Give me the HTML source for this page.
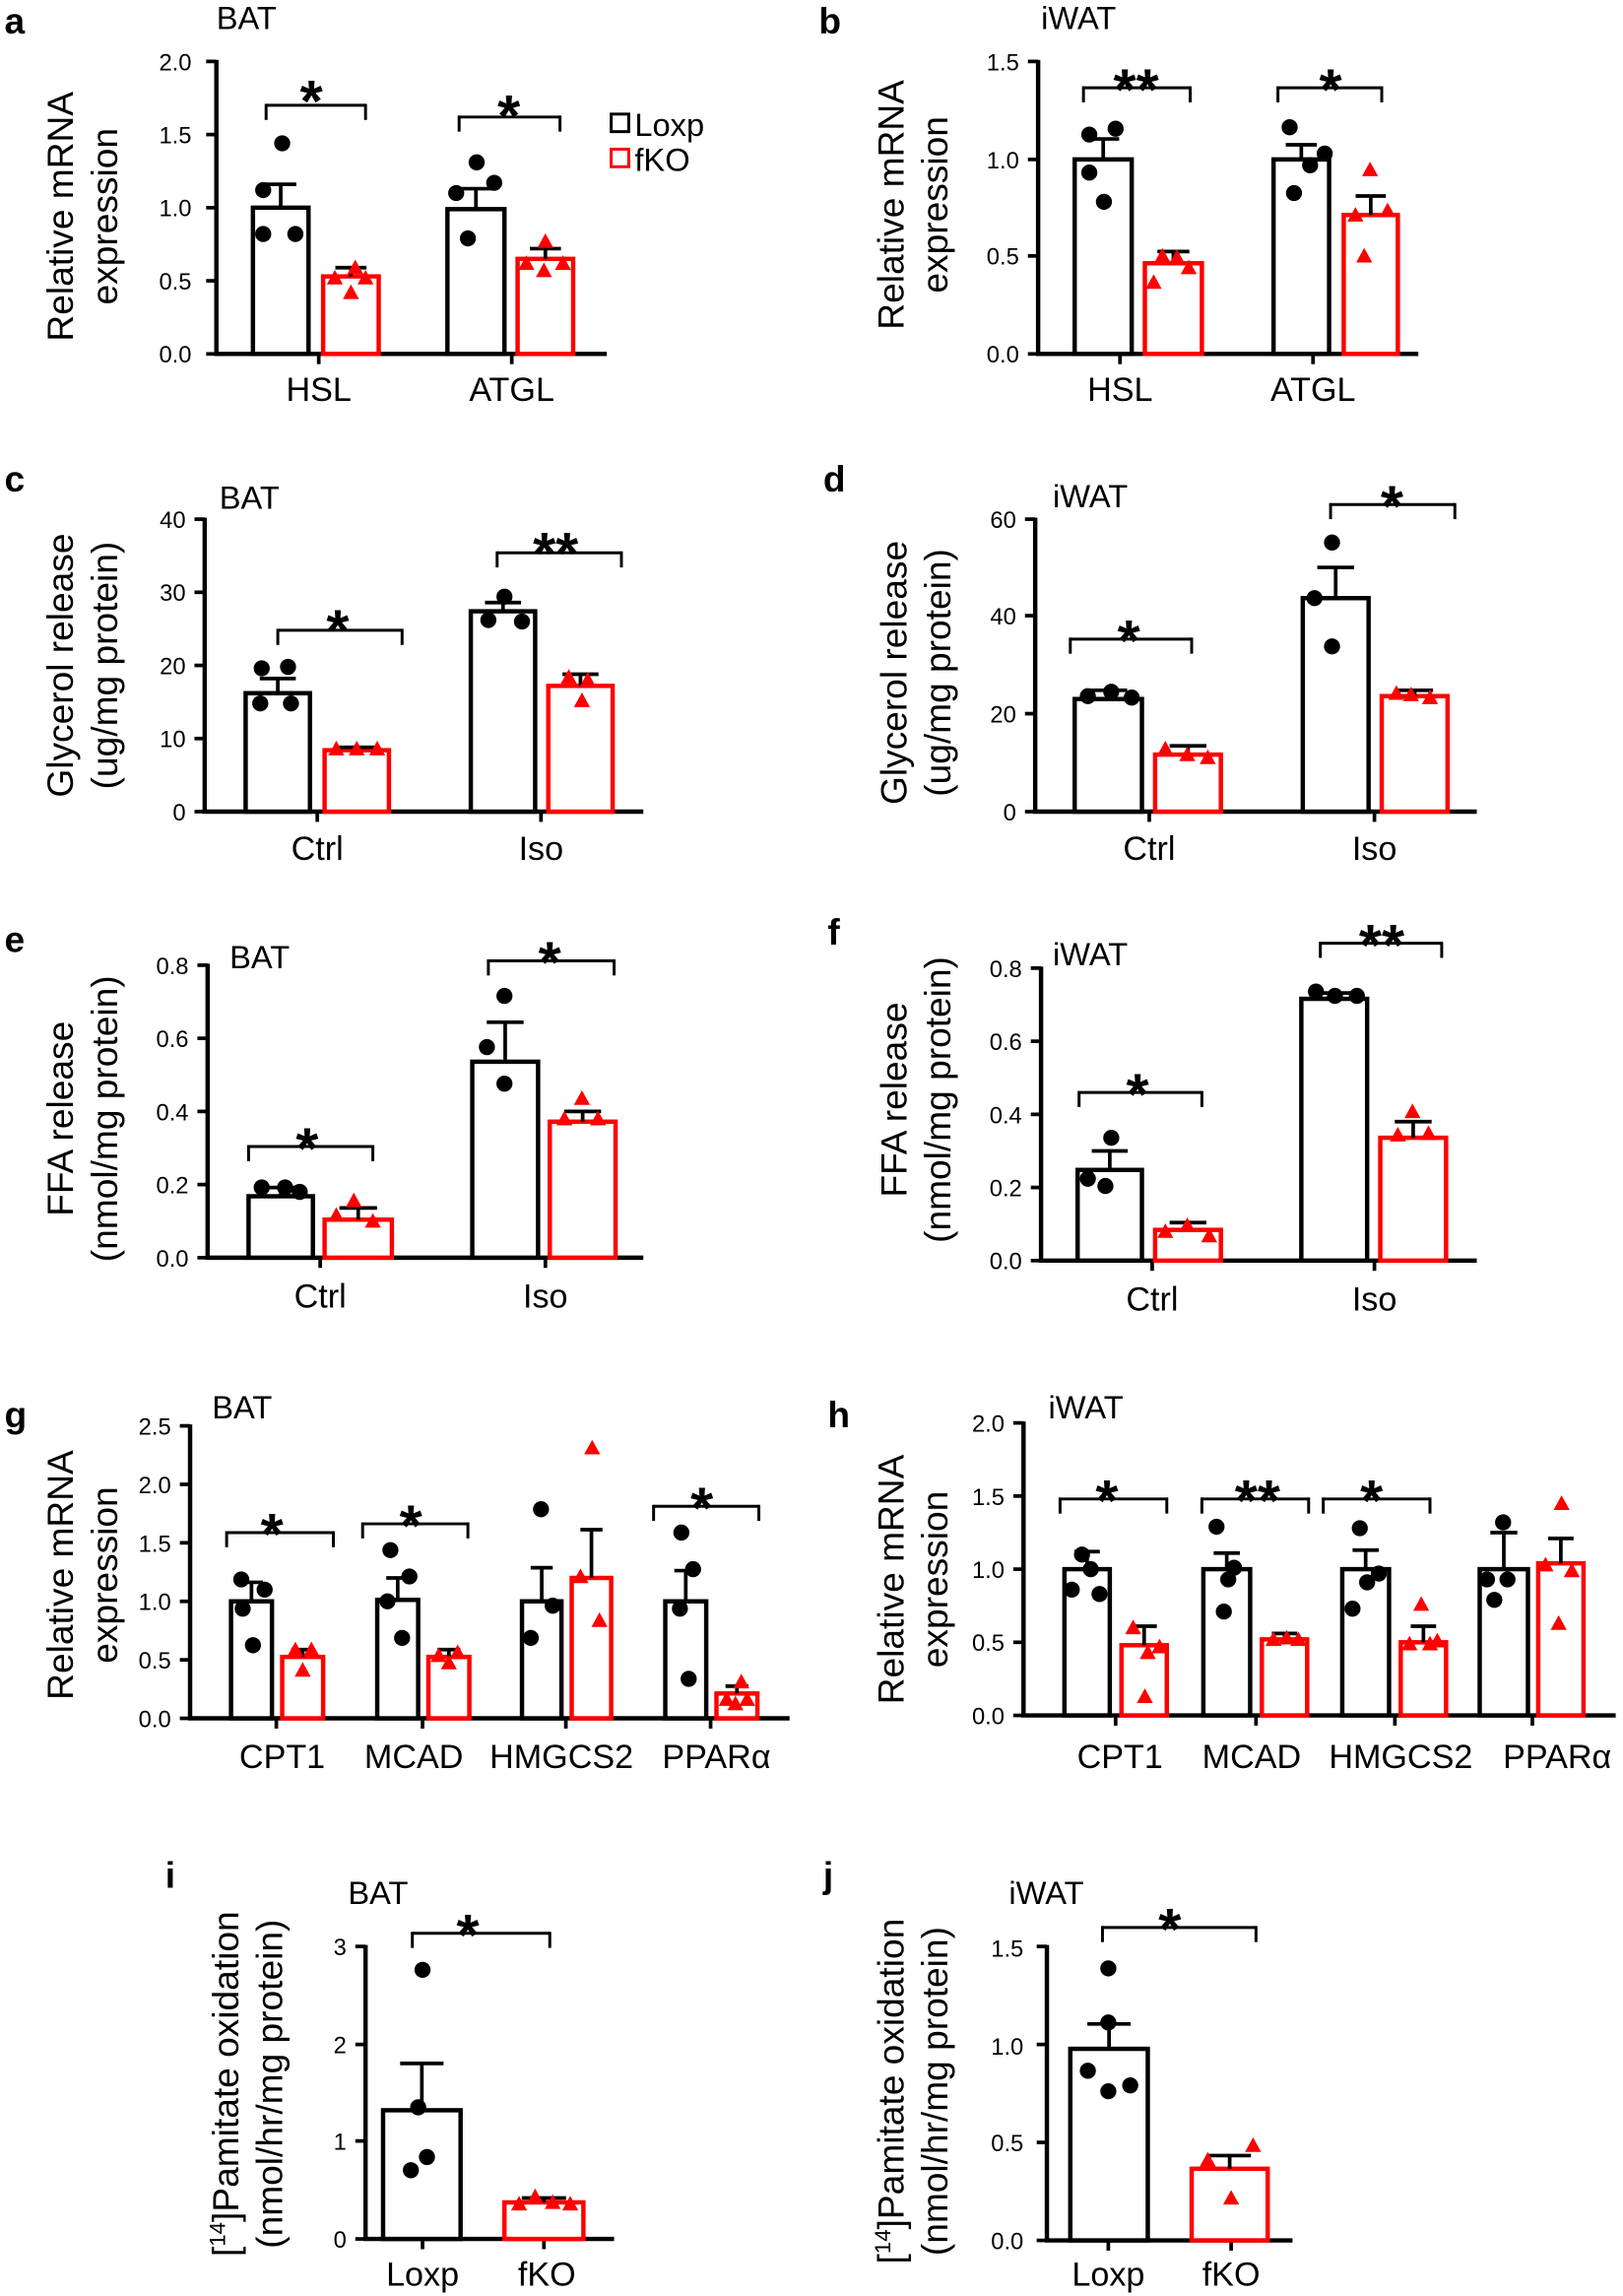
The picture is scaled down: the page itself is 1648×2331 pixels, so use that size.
<!DOCTYPE html>
<html><head><meta charset="utf-8"><style>
html,body{margin:0;padding:0;background:#fff}
svg{display:block}
text{font-family:"Liberation Sans",Arial,sans-serif;fill:#000}
.t{font-size:16px;text-anchor:end}
.c{font-size:23px;text-anchor:middle}
.y{font-size:25px;text-anchor:middle}
.L{font-size:25px;font-weight:bold}
.T{font-size:22px}
.s{font-size:40px;font-weight:bold;text-anchor:middle}
</style></head><body>
<svg id="g" width="1648" height="2331" viewBox="0 0 1110 1570" xmlns="http://www.w3.org/2000/svg">
<text class="L" x="3" y="23">a</text><text class="T" x="148" y="20">BAT</text>
<text class="L" x="560" y="23">b</text><text class="T" x="712" y="20">iWAT</text>
<text class="L" x="3" y="336">c</text><text class="T" x="150" y="348">BAT</text>
<text class="L" x="563" y="336">d</text><text class="T" x="720" y="347">iWAT</text>
<text class="L" x="3" y="651">e</text><text class="T" x="157" y="662">BAT</text>
<text class="L" x="566" y="646">f</text><text class="T" x="720" y="660">iWAT</text>
<text class="L" x="3" y="976">g</text><text class="T" x="145" y="970">BAT</text>
<text class="L" x="566" y="976">h</text><text class="T" x="717" y="970">iWAT</text>
<text class="L" x="113" y="1291">i</text><text class="T" x="238" y="1302">BAT</text>
<text class="L" x="563" y="1291">j</text><text class="T" x="690" y="1302">iWAT</text>

<g transform="translate(50,148) rotate(-90)"><text class="y">Relative mRNA</text><text class="y" y="30">expression</text></g>
<g transform="translate(618,140) rotate(-90)"><text class="y">Relative mRNA</text><text class="y" y="30">expression</text></g>
<g transform="translate(50,455) rotate(-90)"><text class="y">Glycerol release</text><text class="y" y="30">(ug/mg protein)</text></g>
<g transform="translate(620,460) rotate(-90)"><text class="y">Glycerol release</text><text class="y" y="30">(ug/mg protein)</text></g>
<g transform="translate(50,765) rotate(-90)"><text class="y">FFA release</text><text class="y" y="30">(nmol/mg protein)</text></g>
<g transform="translate(620,752) rotate(-90)"><text class="y">FFA release</text><text class="y" y="30">(nmol/mg protein)</text></g>
<g transform="translate(50,1077) rotate(-90)"><text class="y">Relative mRNA</text><text class="y" y="30">expression</text></g>
<g transform="translate(618,1080) rotate(-90)"><text class="y">Relative mRNA</text><text class="y" y="30">expression</text></g>
<g transform="translate(163,1425) rotate(-90)"><text class="y">[<tspan font-size="15" dy="-9">14</tspan><tspan dy="9">]Pamitate oxidation</tspan></text><text class="y" y="30">(nmol/hr/mg protein)</text></g>
<g transform="translate(618,1430) rotate(-90)"><text class="y">[<tspan font-size="15" dy="-9">14</tspan><tspan dy="9">]Pamitate oxidation</tspan></text><text class="y" y="30">(nmol/hr/mg protein)</text></g>

<g>
<text class="t" x="131" y="248">0.0</text><text class="t" x="131" y="198">0.5</text><text class="t" x="131" y="148">1.0</text><text class="t" x="131" y="98">1.5</text><text class="t" x="131" y="48">2.0</text>
<text class="t" x="697" y="248">0.0</text><text class="t" x="697" y="181">0.5</text><text class="t" x="697" y="115">1.0</text><text class="t" x="697" y="48">1.5</text>
<text class="t" x="127" y="561">0</text><text class="t" x="127" y="511">10</text><text class="t" x="127" y="461">20</text><text class="t" x="127" y="411">30</text><text class="t" x="127" y="361">40</text>
<text class="t" x="695" y="561">0</text><text class="t" x="695" y="494">20</text><text class="t" x="695" y="427">40</text><text class="t" x="695" y="361">60</text>
<text class="t" x="129" y="866">0.0</text><text class="t" x="129" y="816">0.2</text><text class="t" x="129" y="766">0.4</text><text class="t" x="129" y="716">0.6</text><text class="t" x="129" y="666">0.8</text>
<text class="t" x="699" y="868">0.0</text><text class="t" x="699" y="818">0.2</text><text class="t" x="699" y="768">0.4</text><text class="t" x="699" y="718">0.6</text><text class="t" x="699" y="668">0.8</text>
<text class="t" x="117" y="1181">0.0</text><text class="t" x="117" y="1141">0.5</text><text class="t" x="117" y="1101">1.0</text><text class="t" x="117" y="1061">1.5</text><text class="t" x="117" y="1021">2.0</text><text class="t" x="117" y="981">2.5</text>
<text class="t" x="687" y="1179">0.0</text><text class="t" x="687" y="1129">0.5</text><text class="t" x="687" y="1079">1.0</text><text class="t" x="687" y="1029">1.5</text><text class="t" x="687" y="979">2.0</text>
<text class="t" x="237" y="1537">0</text><text class="t" x="237" y="1470">1</text><text class="t" x="237" y="1404">2</text><text class="t" x="237" y="1337">3</text>
<text class="t" x="700" y="1538">0.0</text><text class="t" x="700" y="1471">0.5</text><text class="t" x="700" y="1405">1.0</text><text class="t" x="700" y="1338">1.5</text>
</g>

<text class="c" x="218" y="274">HSL</text><text class="c" x="350" y="274">ATGL</text>
<text class="c" x="766" y="274">HSL</text><text class="c" x="898" y="274">ATGL</text>
<text class="c" x="217" y="588">Ctrl</text><text class="c" x="370" y="588">Iso</text>
<text class="c" x="786" y="588">Ctrl</text><text class="c" x="940" y="588">Iso</text>
<text class="c" x="219" y="894">Ctrl</text><text class="c" x="373" y="894">Iso</text>
<text class="c" x="788" y="896">Ctrl</text><text class="c" x="940" y="896">Iso</text>
<text class="c" x="193" y="1209">CPT1</text><text class="c" x="283" y="1209">MCAD</text><text class="c" x="384" y="1209">HMGCS2</text><text class="c" x="490" y="1209">PPARα</text>
<text class="c" x="766" y="1209">CPT1</text><text class="c" x="856" y="1209">MCAD</text><text class="c" x="958" y="1209">HMGCS2</text><text class="c" x="1065" y="1209">PPARα</text>
<text class="c" x="289" y="1563">Loxp</text><text class="c" x="374" y="1563">fKO</text>
<text class="c" x="758" y="1563">Loxp</text><text class="c" x="842" y="1563">fKO</text>

<text class="s" x="213" y="83">*</text><text class="s" x="348" y="93">*</text>
<text class="s" x="777" y="75">**</text><text class="s" x="910" y="75">*</text>
<text class="s" x="231" y="445">*</text><text class="s" x="380" y="392">**</text>
<text class="s" x="772" y="452">*</text><text class="s" x="952" y="360">*</text>
<text class="s" x="210" y="799">*</text><text class="s" x="376" y="672">*</text>
<text class="s" x="778" y="762">*</text><text class="s" x="945" y="660">**</text>
<text class="s" x="186" y="1063">*</text><text class="s" x="281" y="1057">*</text><text class="s" x="480" y="1045">*</text>
<text class="s" x="757" y="1040">*</text><text class="s" x="860" y="1040">**</text><text class="s" x="938" y="1040">*</text>
<text class="s" x="320" y="1337">*</text><text class="s" x="800" y="1333">*</text>

<rect x="418" y="78" width="12" height="12" fill="none" stroke="#000" stroke-width="2"/>
<text x="434" y="93" style="font-size:22px">Loxp</text>
<rect x="418" y="102" width="12" height="12" fill="none" stroke="#f00" stroke-width="2"/>
<text x="434" y="117" style="font-size:22px">fKO</text>
<g id="geo"></g>
</svg>
<script>
var NS="http://www.w3.org/2000/svg",G=document.getElementById("geo");
function el(n,a){var e=document.createElementNS(NS,n);for(var k in a)e.setAttribute(k,a[k]);G.appendChild(e);return e;}
function ln(x1,y1,x2,y2,c,w){el("line",{x1:x1,y1:y1,x2:x2,y2:y2,stroke:c||"#000","stroke-width":w||2.5});}
function panel(p){
 ln(p.ax,p.y0+1,p.ax,p.top,"#000",3);
 ln(p.ax-1.5,p.y0,p.xe,p.y0,"#000",3);
 p.ticks.forEach(function(t){ln(p.ax-7,t,p.ax,t,"#000",2.5);});
 (p.xt||[]).forEach(function(x){ln(x,p.y0,x,p.y0+7,"#000",2.5);});
 p.bars.forEach(function(b){
  var c=b[5]?"#f00":"#000",cx=(b[0]+b[1])/2,hw=(b[1]-b[0])*0.28;
  el("rect",{x:b[0],y:b[2],width:b[1]-b[0],height:p.y0-b[2],fill:"#fff",stroke:c,"stroke-width":3});
  ln(cx,b[2],cx,b[3],"#000",2.5);ln(cx-hw,b[3],cx+hw,b[3],"#000",2.5);
  b[4].forEach(function(q){
   if(b[5])el("polygon",{points:(q[0]-5.5)+","+(q[1]+4.5)+" "+(q[0]+5.5)+","+(q[1]+4.5)+" "+q[0]+","+(q[1]-5.5),fill:"#f00"});
   else el("circle",{cx:q[0],cy:q[1],r:5.5,fill:"#000"});
  });
 });
 (p.br||[]).forEach(function(b){ln(b[0],b[2],b[1],b[2],"#000",2);ln(b[0],b[2]-1,b[0],b[2]+10,"#000",2);ln(b[1],b[2]-1,b[1],b[2]+10,"#000",2);});
}
panel({ax:148,y0:242,top:41,xe:415,ticks:[242,192,142,92,42],xt:[218,350],
 bars:[[173,211,142,126,[[193,98],[180,130],[180,160],[202,160]]],
       [221,259,189,183,[[243,183],[229,190],[250,190],[240,200]],1],
       [306,345,143,129,[[326,111],[312,132],[338,125],[320,163]]],
       [354,392,177,170,[[373,165],[360,180],[385,180],[372,185]],1]],
 br:[[182,250,72],[314,383,80]]});
panel({ax:710,y0:242,top:41,xe:970,ticks:[242,175,109,42],xt:[766,898],
 bars:[[735,774,109,95,[[763,88],[745,92],[745,118],[755,138]]],
       [783,822,180,172,[[795,175],[805,176],[813,183],[789,193]],1],
       [871,909,109,99,[[882,87],[906,105],[885,132],[896,113]]],
       [919,956,147,134,[[937,116],[927,147],[949,144],[933,175]],1]],
 br:[[741,814,60],[874,945,60]]});
panel({ax:140,y0:555,top:354,xe:440,ticks:[555,505,455,405,355],xt:[217,370],
 bars:[[168,212,474,464,[[179,457],[197,456],[178,481],[199,481]]],
       [222,266,513,511,[[230,512],[244,512],[258,512]],1],
       [322,366,418,412,[[345,408],[334,424],[357,425]]],
       [375,419,469,461,[[389,463],[402,465],[398,479]],1]],
 br:[[190,275,431],[340,425,378]]});
panel({ax:708,y0:555,top:354,xe:1010,ticks:[555,488,421,355],xt:[786,940],
 bars:[[735,781,478,472,[[744,476],[760,473],[774,477]]],
       [790,835,516,510,[[797,512],[812,516],[826,518]],1],
       [891,936,409,388,[[911,371],[899,409],[911,442]]],
       [945,990,476,472,[[955,474],[965,475],[978,477]],1]],
 br:[[732,815,437],[910,995,345]]});
panel({ax:142,y0:860,top:659,xe:440,ticks:[860,810,760,710,660],xt:[219,373],
 bars:[[170,214,818,812,[[179,812],[195,812],[205,815]]],
       [222,268,834,826,[[230,831],[242,821],[255,835]],1],
       [323,368,726,699,[[345,681],[333,716],[345,741]]],
       [376,421,767,760,[[386,765],[398,751],[409,765]],1]],
 br:[[170,255,784],[334,420,657]]});
panel({ax:712,y0:862,top:661,xe:1010,ticks:[862,812,762,712,662],xt:[788,940],
 bars:[[737,781,800,787,[[760,778],[744,806],[756,811]]],
       [790,835,841,836,[[797,842],[812,838],[827,845]],1],
       [890,935,683,679,[[900,678],[913,681],[928,681]]],
       [944,989,778,767,[[966,760],[956,776],[977,775]],1]],
 br:[[738,822,747],[903,986,645]]});
panel({ax:130,y0:1175,top:974,xe:540,ticks:[1175,1135,1095,1055,1015,975],xt:[189,289,387,486],
 bars:[[158,186,1095,1082,[[165,1080],[181,1087],[166,1100],[173,1125]]],
       [193,221,1133,1128,[[202,1128],[213,1128],[207,1142]],1],
       [258,286,1094,1079,[[267,1060],[280,1078],[265,1095],[275,1120]]],
       [293,321,1133,1128,[[300,1132],[313,1130],[307,1137]],1],
       [357,384,1095,1072,[[370,1032],[363,1120],[378,1098]]],
       [391,418,1079,1046,[[405,990],[397,1078],[410,1108]],1],
       [455,483,1095,1074,[[466,1048],[474,1073],[465,1100],[471,1148]]],
       [490,518,1158,1153,[[497,1162],[507,1150],[511,1162],[503,1165]],1]],
 br:[[155,228,1048],[248,320,1042],[447,519,1030]]});
panel({ax:700,y0:1173,top:972,xe:1105,ticks:[1173,1123,1073,1023,973],xt:[763,859,954,1048],
 bars:[[728,759,1073,1061,[[740,1063],[746,1073],[733,1087],[752,1090]]],
       [767,798,1125,1112,[[775,1113],[785,1130],[793,1126],[783,1160]],1],
       [823,855,1073,1062,[[832,1044],[844,1072],[837,1102],[840,1080]]],
       [863,894,1121,1117,[[871,1121],[880,1120],[888,1121]],1],
       [918,950,1073,1060,[[930,1045],[943,1076],[925,1100],[935,1082]]],
       [958,989,1123,1112,[[972,1097],[964,1124],[978,1124],[983,1122]],1],
       [1012,1045,1073,1048,[[1028,1041],[1017,1080],[1031,1080],[1022,1094]]],
       [1052,1083,1069,1052,[[1068,1028],[1057,1070],[1075,1074],[1066,1110]],1]],
 br:[[725,798,1025],[822,895,1025],[905,978,1025]]});
panel({ax:250,y0:1531,top:1330,xe:420,ticks:[1531,1464,1398,1331],xt:[289,372],
 bars:[[262,315,1443,1411,[[289,1347],[286,1441],[281,1484],[292,1475]]],
       [345,399,1506,1503,[[355,1507],[366,1502],[378,1506],[390,1507]],1]],
 br:[[282,376,1322]]});
panel({ax:716,y0:1532,top:1330,xe:884,ticks:[1532,1465,1398,1331],xt:[758,842],
 bars:[[732,785,1401,1384,[[758,1346],[758,1383],[744,1416],[758,1430],[773,1426]]],
       [815,867,1483,1474,[[826,1477],[857,1467],[842,1503]],1]],
 br:[[754,859,1318]]});
</script>
</body></html>
